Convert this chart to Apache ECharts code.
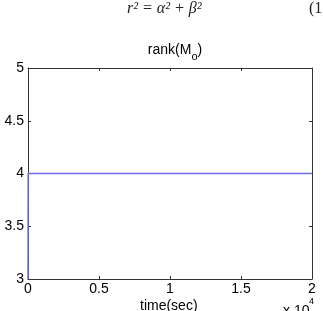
<!DOCTYPE html>
<html><head><meta charset="utf-8">
<script src="https://cdn.jsdelivr.net/npm/echarts@6/dist/echarts.min.js"></script>
<style>html,body{margin:0;padding:0;background:#fff}#c{width:323px;height:311px}</style>
</head><body><div id="c"></div>
<script>
const timeSec = [0, 10, 20000];
const rankVals = [3, 4, 4];
const xTicks = [0, 0.5, 1, 1.5, 2];
const yTicks = [3, 3.5, 4, 4.5, 5];

const chart = echarts.init(document.getElementById('c'));
const font = 'Liberation Sans, Arial, sans-serif';
function axisCommon() {
  return {
    axisLine: {show: true, onZero: false, lineStyle: {color: '#333', width: 1}},
    axisTick: {show: true, inside: true, length: 3, lineStyle: {color: '#333'}},
    splitLine: {show: false}
  };
}
chart.setOption({
  animation: false,
  backgroundColor: '#fff',
  grid: {left: 28, right: 11, top: 68, bottom: 32, containLabel: false},
  title: {
    text: '{a|rank(M}{s|o}{a|)}',
    left: 170, top: 34, textAlign: 'center',
    textStyle: {fontWeight: 'normal', rich: {
      a: {fontFamily: font, fontSize: 14, color: '#000', fontWeight: 'normal'},
      s: {fontFamily: font, fontSize: 11, color: '#000', fontWeight: 'normal', padding: [12, 0, 0, 0]}
    }}
  },
  graphic: [
    {type: 'text', left: 127, top: 1, style: {text: 'r² = α² + β²', font: 'italic 16px "Liberation Serif", serif', fill: '#222'}},
    {type: 'text', left: 309, top: 1, style: {text: '(12)', font: '16px "Liberation Serif", serif', fill: '#222'}},
    {type: 'text', left: 140, top: 299, style: {text: 'time(sec)', font: '14px ' + font, fill: '#000'}},
    {type: 'text', left: 283, top: 304, style: {text: 'x 10', font: '14px ' + font, fill: '#000'}},
    {type: 'text', left: 309, top: 297, style: {text: '4', font: '9px ' + font, fill: '#000'}}
  ],
  xAxis: [
    Object.assign({type: 'value', min: 0, max: 20000, interval: 5000, position: 'bottom',
      axisLabel: {fontFamily: font, fontSize: 14, color: '#000', margin: 3,
        formatter: v => String(xTicks[Math.round(v / 5000)])}}, axisCommon()),
    Object.assign({type: 'value', min: 0, max: 20000, interval: 5000, position: 'top',
      axisLabel: {show: false}}, axisCommon())
  ],
  yAxis: [
    Object.assign({type: 'value', min: 3, max: 5, interval: 0.5, position: 'left',
      axisLabel: {fontFamily: font, fontSize: 14, color: '#000', margin: 4,
        formatter: v => String(yTicks[Math.round((v - 3) / 0.5)])}}, axisCommon()),
    Object.assign({type: 'value', min: 3, max: 5, interval: 0.5, position: 'right',
      axisLabel: {show: false}}, axisCommon())
  ],
  series: [{
    type: 'line', xAxisIndex: 0, yAxisIndex: 0, symbol: 'none', z: 10,
    data: timeSec.map((t, i) => [t, rankVals[i]]),
    lineStyle: {color: '#6e6ee8', width: 1.5}
  }]
});
</script></body></html>
